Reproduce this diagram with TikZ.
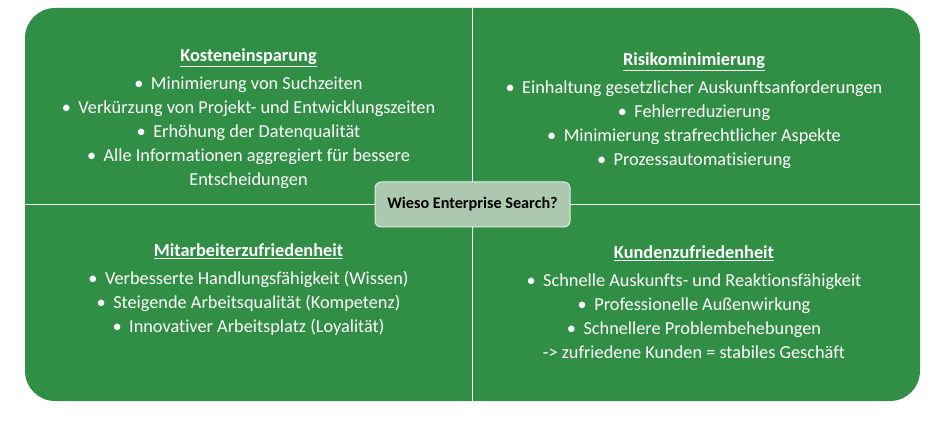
\documentclass[tikz,border=0pt]{standalone}
\usepackage{fontspec}
\setmainfont[Ligatures={TeX,NoCommon}]{Carlito}
\definecolor{boxgreen}{RGB}{49,142,69}
\definecolor{sage}{RGB}{172,201,176}
\definecolor{sageline}{RGB}{225,235,225}
\tikzset{
  panel/.style={fill=boxgreen, draw=none, rounded corners=30pt, minimum width=895pt, minimum height=393pt, inner sep=0pt},
  divider/.style={draw=white, line width=0.8pt},
  quad/.style={text=white, align=center, font=\fontsize{18.3}{24}\selectfont, inner sep=0pt},
  hub/.style={fill=sage, draw=sageline, line width=1pt, rounded corners=6pt, minimum width=195pt, minimum height=45pt, font=\fontsize{16.2}{18}\selectfont\bfseries, text=black}
}
\newcommand{\bul}{\textbullet\hspace{7.5pt}}
\newcommand{\hd}[1]{\underline{\textbf{#1}}}
\begin{document}
\begin{tikzpicture}[x=1pt,y=-1pt]
\useasboundingbox (0,0) rectangle (945,430);
\node[panel] (box) at (472.5,204.5) {};
\draw[divider] (box.north) -- (box.south);
\draw[divider] (box.west) -- (box.east);
\node[hub] (hub) at (472.5,204.5) {Wieso Enterprise Search?};
\node[quad] (kosten) at (248.5,118.5) {\hd{Kosteneinsparung}\\[4pt]
\bul Minimierung von Suchzeiten\\
\bul Verkürzung von Projekt- und Entwicklungszeiten\\
\bul Erhöhung der Datenqualität\\
\bul Alle Informationen aggregiert für bessere\\
Entscheidungen};
\node[quad] (risiko) at (694,110.5) {\hd{Risikominimierung}\\[4pt]
\bul Einhaltung gesetzlicher Auskunftsanforderungen\\
\bul Fehlerreduzierung\\
\bul Minimierung strafrechtlicher Aspekte\\
\bul Prozessautomatisierung};
\node[quad] (mitarbeiter) at (248.5,289.5) {\hd{Mitarbeiterzufriedenheit}\\[4pt]
\bul Verbesserte Handlungsfähigkeit (Wissen)\\
\bul Steigende Arbeitsqualität (Kompetenz)\\
\bul Innovativer Arbeitsplatz (Loyalität)};
\node[quad] (kunden) at (694,302) {\hd{Kundenzufriedenheit}\\[4pt]
\bul Schnelle Auskunfts- und Reaktionsfähigkeit\\
\bul Professionelle Außenwirkung\\
\bul Schnellere Problembehebungen\\
-> zufriedene Kunden = stabiles Geschäft};
\end{tikzpicture}
\end{document}
